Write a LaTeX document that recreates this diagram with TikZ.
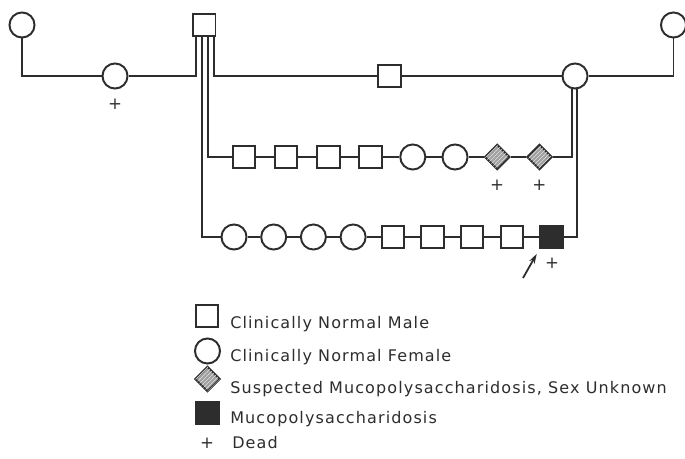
\documentclass[tikz,border=0pt]{standalone}
\usepackage{fontspec}
\usepackage{tikz}
\usetikzlibrary{shapes.geometric,patterns,arrows.meta}

\newfontfamily\legendfont[LetterSpace=7]{DejaVu Sans}
\definecolor{ink}{RGB}{45,45,45}

\tikzset{
  male/.style={draw=ink,line width=1.45pt,fill=white,minimum size=16.8pt,inner sep=0pt},
  female/.style={circle,draw=ink,line width=1.45pt,fill=white,minimum size=18.8pt,inner sep=0pt},
  suspect/.style={diamond,draw=ink,line width=1.45pt,fill=gray!75,minimum size=19pt,inner sep=0pt,
    postaction={pattern=north east lines,pattern color=gray!25}},
  affected/.style={male,fill=ink},
  deadmark/.style={font=\fontsize{12.5}{14}\legendfont,text=ink,inner sep=0pt},
  legendtext/.style={anchor=base west,font=\fontsize{12}{14}\legendfont,text=ink,inner sep=0pt},
  link/.style={draw=ink,line width=1.35pt},
  pointer/.style={link,-{Stealth[length=7.5pt,width=4.5pt]},shorten >=4pt}
}

\begin{document}
\begin{tikzpicture}[x=0.75pt,y=0.75pt,yscale=-1,xscale=1]
\useasboundingbox (0,0) rectangle (685,459);

%Shape: parents of the dam and of the sire
\node [female] (ggdam) at (22,25) {};
\node [female] (dam) at (115,76) {};
\node [male] (sire) at (204.3,25) {};
\node [male] (half) at (389.5,76) {};
\node [female] (sdam) at (575,76) {};
\node [female] (ggsire) at (673.5,25) {};

%Shape: first litter
\node [male] (m1) at (244,157) {};
\node [male] (m2) at (286.2,157) {};
\node [male] (m3) at (328.4,157) {};
\node [male] (m4) at (370.6,157) {};
\node [female] (m5) at (412.8,157) {};
\node [female] (m6) at (455,157) {};
\node [suspect] (m7) at (497.2,157) {};
\node [suspect] (m8) at (539.4,157) {};

%Shape: second litter
\node [female] (b1) at (234,237) {};
\node [female] (b2) at (273.7,237) {};
\node [female] (b3) at (313.4,237) {};
\node [female] (b4) at (353.1,237) {};
\node [male] (b5) at (392.8,237) {};
\node [male] (b6) at (432.5,237) {};
\node [male] (b7) at (472.2,237) {};
\node [male] (b8) at (511.9,237) {};
\node [affected] (b9) at (551.6,237) {};

% Text Node: dead
\node [deadmark] (d1) at (115,104) {+};
\node [deadmark] (d2) at (497.2,185) {+};
\node [deadmark] (d3) at (539.4,185) {+};
\node [deadmark] (d4) at (552,263) {+};

%Shape: lines of descent
\draw [link] (ggdam.south) |- (dam.west);
\draw [link] (dam.east) -| ([xshift=-6.45pt]sire.south);
\draw [link] ([xshift=7.3pt]sire.south) |- (half.west);
\draw [link] (half.east) -- (sdam.west);
\draw [link] (sdam.east) -| (ggsire.south);

\draw [link] ([xshift=2.55pt]sire.south) |- (m1.west);
\draw [link] (m1) -- (m2) -- (m3) -- (m4) -- (m5) -- (m6) -- (m7) -- (m8);
\draw [link] (m8.east) -| ([xshift=-2.5pt]sdam.south);

\draw [link] ([xshift=-1.5pt]sire.south) |- (b1.west);
\draw [link] (b1) -- (b2) -- (b3) -- (b4) -- (b5) -- (b6) -- (b7) -- (b8) -- (b9);
\draw [link] (b9.east) -| ([xshift=1.3pt]sdam.south);

%Shape: arrow to the proband
\coordinate (ptrtail) at (523,278);
\draw [pointer] (ptrtail) -- (b9.south west);

%Shape: legend
\node [male] (keymale) at (207,316) {};
\node [female] (keyfemale) at (207.5,351) {};
\node [suspect] (keysuspect) at (207.5,379) {};
\node [affected] (keyaffected) at (207.5,413) {};
\node [deadmark] (keydead) at (207,443) {+};

% Text Node
\node [legendtext] (tmale) at (230,328.3) {Clinically Normal Male};
\node [legendtext] (tfemale) at (230,361.7) {Clinically Normal Female};
\node [legendtext] (tsuspect) at (230,393.3) {Suspected Mucopolysaccharidosis, Sex Unknown};
\node [legendtext] (taffected) at (230,423.3) {Mucopolysaccharidosis};
\node [legendtext] (tdead) at (232,448.5) {Dead};

\end{tikzpicture}
\end{document}
